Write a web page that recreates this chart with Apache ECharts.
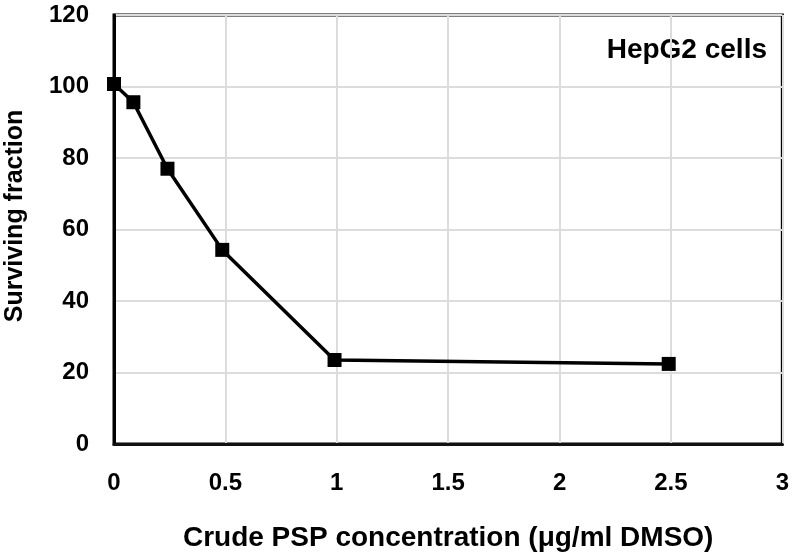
<!DOCTYPE html>
<html>
<head>
<meta charset="utf-8">
<script src="https://cdn.jsdelivr.net/npm/echarts@6/dist/echarts.min.js"></script>
<style>html,body{margin:0;padding:0;background:#fff}#c{width:792px;height:557px}</style>
</head>
<body>
<div id="c"></div>
<script>
const concentration = [0, 0.087, 0.24, 0.486, 0.99, 2.49];
const survivingFraction = [100.7, 95.6, 77.0, 54.3, 23.5, 22.4];
const xTicks = [0, 0.5, 1, 1.5, 2, 2.5, 3];
const yTicks = [0, 20, 40, 60, 80, 100, 120];
const xTitle = 'Crude PSP concentration (μg/ml DMSO)';
const yTitle = 'Surviving fraction';
const annotation = 'HepG2 cells';

const font = 'Arial, "Liberation Sans", Helvetica, sans-serif';
const chart = echarts.init(document.getElementById('c'), null, {renderer: 'canvas'});
chart.setOption({
  animation: false,
  backgroundColor: '#fff',
  grid: {left: 114, right: 9, top: 15, bottom: 106, show: true, borderColor: '#000', borderWidth: 3, backgroundColor: 'transparent'},
  xAxis: {
    type: 'value', min: xTicks[0], max: xTicks[xTicks.length - 1], interval: 0.5,
    name: xTitle, nameLocation: 'middle', nameGap: 80,
    nameTextStyle: {fontFamily: font, fontWeight: 'bold', fontSize: 28, color: '#000'},
    axisLine: {show: true, lineStyle: {color: '#111', width: 3}},
    axisTick: {show: false},
    axisLabel: {fontFamily: font, fontWeight: 'bold', fontSize: 24, color: '#000', margin: 27},
    splitLine: {show: true, lineStyle: {color: '#dcdcdc', width: 2}}
  },
  yAxis: {
    type: 'value', min: yTicks[0], max: yTicks[yTicks.length - 1], interval: 20,
    axisLine: {show: true, lineStyle: {color: '#000', width: 3}},
    axisTick: {show: false},
    axisLabel: {fontFamily: font, fontWeight: 'bold', fontSize: 24, color: '#000', margin: 25},
    splitLine: {show: true, lineStyle: {color: '#dcdcdc', width: 2}}
  },
  graphic: [
    {type: 'text', rotation: Math.PI / 2, x: 15, y: 216,
     style: {text: yTitle, font: 'bold 25px ' + font, fill: '#000', align: 'center', verticalAlign: 'middle'}},
    {type: 'text', x: 767, y: 50,
     style: {text: annotation, font: 'bold 28px ' + font, fill: '#000', align: 'right', verticalAlign: 'middle'}}
  ],
  series: [{
    type: 'line',
    data: concentration.map((x, i) => [x, survivingFraction[i]]),
    symbol: 'rect', symbolSize: 14,
    lineStyle: {color: '#000', width: 3.5},
    itemStyle: {color: '#000'},
    clip: false
  }]
});
</script>
</body>
</html>
